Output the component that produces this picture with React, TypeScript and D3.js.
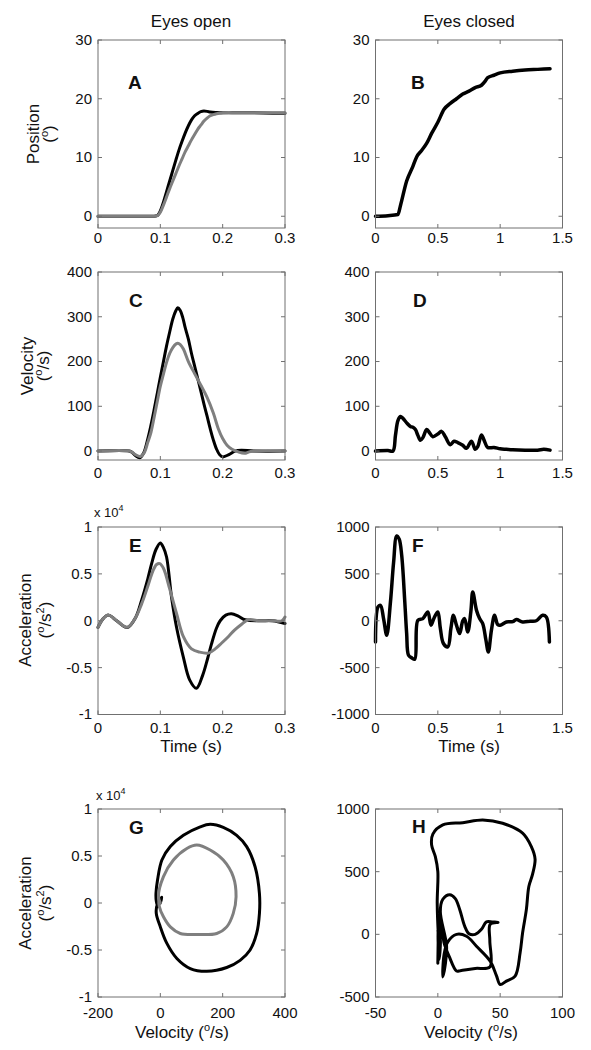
import React from "react";
import * as d3 from "d3";

const FONT = "'Liberation Sans', Arial, Helvetica, sans-serif";
const BLACK = "#000000";
const GRAY = "#7f7f7f";
const AXIS = "#707070";

// ---------- Panel A : position, eyes open ----------
const aBlackT = [0, 0.03, 0.06, 0.09, 0.095, 0.1, 0.105, 0.11, 0.115, 0.12, 0.125, 0.13, 0.135, 0.14, 0.145, 0.15, 0.155, 0.16, 0.165, 0.17, 0.175, 0.18, 0.19, 0.2, 0.22, 0.25, 0.28, 0.3];
const aBlackPos = [0, 0, 0, 0, 0.1, 0.9, 2.4, 4.2, 6.0, 7.8, 9.6, 11.3, 12.8, 14.2, 15.4, 16.4, 17.1, 17.5, 17.8, 17.9, 17.85, 17.75, 17.65, 17.6, 17.6, 17.6, 17.55, 17.55];
const aGrayT = [0, 0.03, 0.06, 0.09, 0.095, 0.1, 0.105, 0.11, 0.115, 0.12, 0.125, 0.13, 0.135, 0.14, 0.145, 0.15, 0.155, 0.16, 0.165, 0.17, 0.175, 0.18, 0.185, 0.19, 0.195, 0.2, 0.21, 0.22, 0.25, 0.28, 0.3];
const aGrayPos = [0, 0, 0, 0, 0.1, 0.7, 1.9, 3.3, 4.7, 6.0, 7.3, 8.6, 9.8, 11.0, 12.0, 13.0, 13.9, 14.8, 15.5, 16.2, 16.7, 17.1, 17.3, 17.45, 17.55, 17.6, 17.65, 17.6, 17.6, 17.6, 17.6];

// ---------- Panel B : position, eyes closed ----------
const bT = [0, 0.1, 0.18, 0.2, 0.25, 0.3, 0.33, 0.37, 0.41, 0.45, 0.5, 0.55, 0.6, 0.65, 0.7, 0.75, 0.8, 0.85, 0.88, 0.9, 0.95, 1.0, 1.1, 1.2, 1.3, 1.4];
const bPos = [0, 0.1, 0.3, 1.8, 6.0, 8.5, 10.1, 11.2, 12.4, 14.1, 16.0, 18.2, 19.2, 20.0, 20.8, 21.3, 21.9, 22.3, 23.0, 23.6, 24.0, 24.4, 24.7, 24.9, 25.0, 25.1];

// ---------- Panel C : velocity, eyes open ----------
const cBlackT = [0, 0.05, 0.055, 0.06, 0.067, 0.073, 0.08, 0.085, 0.09, 0.095, 0.1, 0.105, 0.11, 0.115, 0.12, 0.125, 0.128, 0.132, 0.136, 0.14, 0.145, 0.15, 0.155, 0.16, 0.165, 0.17, 0.175, 0.18, 0.185, 0.19, 0.195, 0.2, 0.21, 0.22, 0.23, 0.25, 0.3];
const cBlackVel = [0, 0, -3, -10, -15, -5, 28, 58, 92, 128, 165, 200, 235, 266, 295, 314, 320, 314, 298, 275, 250, 218, 190, 162, 134, 105, 78, 50, 25, 5, -8, -13, -8, 0, 2, 0, 0];
const cGrayT = [0, 0.05, 0.055, 0.06, 0.068, 0.074, 0.08, 0.085, 0.09, 0.095, 0.1, 0.105, 0.11, 0.115, 0.12, 0.125, 0.128, 0.132, 0.137, 0.145, 0.155, 0.165, 0.175, 0.185, 0.193, 0.2, 0.207, 0.215, 0.225, 0.235, 0.245, 0.3];
const cGrayVel = [0, 0, -3, -8, -12, -4, 20, 42, 75, 110, 145, 172, 198, 218, 231, 239, 241, 238, 228, 200, 173, 147, 120, 85, 50, 28, 13, 4, -2, -5, -1, 0];

// ---------- Panel D : velocity, eyes closed ----------
const dT = [0, 0.1, 0.14, 0.16, 0.18, 0.2, 0.22, 0.25, 0.28, 0.3, 0.32, 0.34, 0.36, 0.38, 0.41, 0.43, 0.46, 0.5, 0.53, 0.56, 0.6, 0.63, 0.66, 0.7, 0.73, 0.77, 0.8, 0.82, 0.85, 0.87, 0.9, 0.95, 1.0, 1.05, 1.1, 1.2, 1.3, 1.35, 1.4];
const dVel = [0, 1, 0, 35, 68, 77, 73, 63, 55, 53, 48, 35, 24, 30, 48, 42, 32, 38, 44, 32, 14, 22, 19, 13, 6, 22, 4, 10, 36, 25, 8, 8, 5, 4, 3, 2, 2, 4, 2];

// ---------- Panel E : acceleration (x10^4), eyes open ----------
const eBlackT = [0, 0.008, 0.017, 0.03, 0.047, 0.06, 0.07, 0.08, 0.086, 0.093, 0.1, 0.105, 0.11, 0.118, 0.126, 0.137, 0.147, 0.158, 0.168, 0.176, 0.182, 0.19, 0.196, 0.205, 0.214, 0.225, 0.236, 0.26, 0.28, 0.3];
const eBlackAcc = [-0.07, 0.02, 0.06, 0.0, -0.073, 0.03, 0.22, 0.45, 0.61, 0.76, 0.83, 0.78, 0.68, 0.25, -0.07, -0.39, -0.63, -0.72, -0.58, -0.4, -0.25, -0.08, 0.0, 0.06, 0.075, 0.05, 0.01, 0.0, 0.0, -0.03];
const eGrayT = [0, 0.008, 0.017, 0.03, 0.047, 0.06, 0.07, 0.08, 0.088, 0.094, 0.099, 0.105, 0.115, 0.126, 0.137, 0.15, 0.163, 0.177, 0.188, 0.198, 0.209, 0.219, 0.23, 0.241, 0.26, 0.28, 0.295, 0.3];
const eGrayAcc = [-0.07, 0.02, 0.06, 0.0, -0.07, 0.03, 0.18, 0.37, 0.53, 0.6, 0.61, 0.56, 0.34, 0.077, -0.17, -0.3, -0.335, -0.345, -0.3, -0.24, -0.17, -0.1, -0.04, 0.01, 0.0, 0.0, 0.0, 0.04];

// ---------- Panel F : acceleration, eyes closed ----------
const fT = [0, 0.02, 0.04, 0.065, 0.09, 0.12, 0.145, 0.17, 0.19, 0.21, 0.235, 0.25, 0.265, 0.29, 0.315, 0.34, 0.38, 0.42, 0.445, 0.47, 0.5, 0.52, 0.545, 0.58, 0.605, 0.625, 0.65, 0.675, 0.7, 0.715, 0.74, 0.765, 0.78, 0.81, 0.835, 0.86, 0.885, 0.905, 0.93, 0.955, 0.98, 1.0, 1.05, 1.1, 1.13, 1.18, 1.24, 1.29, 1.34, 1.37, 1.395];
const fAcc = [-226, 147, 165, 20, -155, 200, 620, 905, 870, 700, 200, -137, -368, -395, -410, 5, 23, 94, -48, 30, 94, -80, -243, -279, -80, 58, -50, -137, 0, 23, -119, 100, 307, 112, 23, -30, -200, -333, -100, 58, -40, -48, -13, -10, 13, -13, -5, 0, 58, 40, -226];

// ---------- Panel G : phase plane, eyes open ----------
const gBlackVel = [0, 5, -3, -8, -13, -14, -9, 5, 32, 74, 128, 160, 202, 245, 277, 304, 318, 318, 309, 288, 256, 213, 149, 96, 53, 21, 0, -13, -10, 0];
const gBlackAcc = [0, 0.06, 0.02, -0.04, 0.02, 0.1, 0.244, 0.457, 0.6, 0.72, 0.81, 0.837, 0.805, 0.72, 0.6, 0.386, 0.1, -0.11, -0.324, -0.5, -0.61, -0.686, -0.726, -0.697, -0.59, -0.43, -0.254, -0.11, -0.02, 0.02];
const gGrayVel = [0, -6, 10, 42, 85, 117, 160, 202, 234, 243, 234, 213, 181, 117, 64, 32, 10, -3, -4, 0];
const gGrayAcc = [0, 0.07, 0.28, 0.457, 0.58, 0.617, 0.564, 0.457, 0.28, 0.066, -0.11, -0.254, -0.324, -0.335, -0.324, -0.254, -0.147, -0.04, 0.03, 0];

// ---------- Panel H : phase plane, eyes closed ----------
const hVel = [0, 0.5, 1, 2, 1.5, 0.5, -0.5, 0, -2, -5, -4, 4, 20, 36, 52, 68, 75, 78, 76, 73, 71, 68, 66, 62, 55, 50, 47, 42, 31, 23, 15, 8, 5, 4, 6, 7, 2, 4, 9.6, 14, 17.6, 21.6, 25, 30, 35, 39, 44, 48.3, 42, 41.7, 41.7, 30, 18, 15, 9, 5, 3, 1, 0, 1, 2, 0.5, 1.5];
const hAcc = [-230, 40, 150, -60, -150, -20, 250, 500, 620, 714, 800, 873, 891, 912, 886, 807, 700, 600, 480, 382, 197, 12, -147, -333, -373, -400, -330, -214, -95, -15, 0, -60, -160, -340, -240, -90, 180, 280, 316, 285, 197, 64, 5, 0, 40, 100, 98, 96, 80, -50, -260, -272, -290, -293, -174, -68, 60, -60, 40, -200, -40, 20, -30];

// ---------- ticks ----------
const tOpenTicks = [0, 0.1, 0.2, 0.3];
const tClosedTicks = [0, 0.5, 1, 1.5];
const posTicks = [0, 10, 20, 30];
const velTicks = [0, 100, 200, 300, 400];
const accOpenTicks = [-1, -0.5, 0, 0.5, 1];
const accClosedTicks = [-1000, -500, 0, 500, 1000];
const accPhaseClosedTicks = [-500, 0, 500, 1000];
const velOpenTicks = [-200, 0, 200, 400];
const velClosedTicks = [-50, 0, 50, 100];

type Series = { xs: number[]; ys: number[]; color: string; width: number; curve: any };

type PanelProps = {
  x0: number; x1: number; y0: number; y1: number;
  xDomain: [number, number]; yDomain: [number, number];
  xTicks: number[]; yTicks: number[];
  series: Series[];
  letter: string; letterX: number; letterY: number;
  xTickBaseline: number;
};

function Panel(p: PanelProps) {
  const xs = d3.scaleLinear().domain(p.xDomain).range([p.x0, p.x1]);
  const ys = d3.scaleLinear().domain(p.yDomain).range([p.y1, p.y0]);
  const tl = 4;
  return (
    <g>
      {p.series.map((s, i) => {
        const line = d3
          .line<number>()
          .x((_, k) => xs(s.xs[k]))
          .y((_, k) => ys(s.ys[k]))
          .curve(s.curve);
        return (
          <path
            key={i}
            d={line(s.xs) || ""}
            fill="none"
            stroke={s.color}
            strokeWidth={s.width}
            strokeLinejoin="round"
            strokeLinecap="round"
          />
        );
      })}
      <rect x={p.x0} y={p.y0} width={p.x1 - p.x0} height={p.y1 - p.y0} fill="none" stroke={AXIS} strokeWidth={1} />
      {p.xTicks.map((t, i) => (
        <g key={"xt" + i}>
          <line x1={xs(t)} x2={xs(t)} y1={p.y1} y2={p.y1 - tl} stroke={AXIS} />
          <line x1={xs(t)} x2={xs(t)} y1={p.y0} y2={p.y0 + tl} stroke={AXIS} />
          <text x={xs(t)} y={p.xTickBaseline} textAnchor="middle" fontSize={15} fontFamily={FONT} fill="#111">
            {String(t)}
          </text>
        </g>
      ))}
      {p.yTicks.map((t, i) => (
        <g key={"yt" + i}>
          <line x1={p.x0} x2={p.x0 + tl} y1={ys(t)} y2={ys(t)} stroke={AXIS} />
          <line x1={p.x1} x2={p.x1 - tl} y1={ys(t)} y2={ys(t)} stroke={AXIS} />
          <text x={p.x0 - 6} y={ys(t)} dy="0.33em" textAnchor="end" fontSize={15} fontFamily={FONT} fill="#111">
            {String(t)}
          </text>
        </g>
      ))}
      <text x={p.letterX} y={p.letterY} fontSize={19} fontWeight="bold" fontFamily={FONT} fill="#111">
        {p.letter}
      </text>
    </g>
  );
}

function YLabel({ x1, x2, cy, first, second }: { x1: number; x2: number; cy: number; first: string; second: React.ReactNode }) {
  return (
    <g fontFamily={FONT} fontSize={17} fill="#111">
      <text transform={`translate(${x1},${cy}) rotate(-90)`} textAnchor="middle">{first}</text>
      <text transform={`translate(${x2},${cy}) rotate(-90)`} textAnchor="middle">{second}</text>
    </g>
  );
}

const supDeg = (
  <tspan fontSize={11} dy={-7}>o</tspan>
);

function Times10({ x, y }: { x: number; y: number }) {
  return (
    <text x={x} y={y} fontFamily={FONT} fontSize={13} fill="#111">
      x 10<tspan fontSize={9} dy={-6}>4</tspan>
    </text>
  );
}

export default function App() {
  const L = { x0: 98, x1: 285 };
  const R = { x0: 375.5, x1: 562.5 };
  const rowA = { y0: 40, y1: 228 };
  const rowC = { y0: 272, y1: 460 };
  const rowE = { y0: 527, y1: 714.5 };
  const rowG = { y0: 809, y1: 997 };
  const smooth = d3.curveMonotoneX;
  const cat = d3.curveCatmullRom.alpha(0.5);

  return (
    <svg width={591} height={1050} style={{ position: "absolute", left: 0, top: 0, background: "#fff" }}>
      <rect x={0} y={0} width={591} height={1050} fill="#fff" />
      {/* column titles */}
      <text x={191} y={26.5} textAnchor="middle" fontFamily={FONT} fontSize={17} fill="#111">Eyes open</text>
      <text x={469} y={26.5} textAnchor="middle" fontFamily={FONT} fontSize={17} fill="#111">Eyes closed</text>

      {/* Row 1 */}
      <Panel {...L} {...rowA} xDomain={[0, 0.3]} yDomain={[-2, 30]} xTicks={tOpenTicks} yTicks={posTicks}
        series={[
          { xs: aBlackT, ys: aBlackPos, color: BLACK, width: 3, curve: smooth },
          { xs: aGrayT, ys: aGrayPos, color: GRAY, width: 3, curve: smooth },
        ]}
        letter="A" letterX={128} letterY={89} xTickBaseline={243} />
      <Panel {...R} {...rowA} xDomain={[0, 1.5]} yDomain={[-2, 30]} xTicks={tClosedTicks} yTicks={posTicks}
        series={[{ xs: bT, ys: bPos, color: BLACK, width: 3.5, curve: smooth }]}
        letter="B" letterX={411} letterY={89} xTickBaseline={243} />
      <YLabel x1={39} x2={55} cy={134} first="Position" second={<>({supDeg}<tspan dy={7}>)</tspan></>} />

      {/* Row 2 */}
      <Panel {...L} {...rowC} xDomain={[0, 0.3]} yDomain={[-20, 400]} xTicks={tOpenTicks} yTicks={velTicks}
        series={[
          { xs: cBlackT, ys: cBlackVel, color: BLACK, width: 3, curve: cat },
          { xs: cGrayT, ys: cGrayVel, color: GRAY, width: 3, curve: cat },
        ]}
        letter="C" letterX={129} letterY={306.5} xTickBaseline={478} />
      <Panel {...R} {...rowC} xDomain={[0, 1.5]} yDomain={[-20, 400]} xTicks={tClosedTicks} yTicks={velTicks}
        series={[{ xs: dT, ys: dVel, color: BLACK, width: 3.5, curve: cat }]}
        letter="D" letterX={413} letterY={306.5} xTickBaseline={478} />
      <YLabel x1={33} x2={49} cy={366} first="Velocity" second={<>({supDeg}<tspan dy={7}>/s)</tspan></>} />

      {/* Row 3 */}
      <Times10 x={94} y={517} />
      <Panel {...L} {...rowE} xDomain={[0, 0.3]} yDomain={[-1, 1]} xTicks={tOpenTicks} yTicks={accOpenTicks}
        series={[
          { xs: eBlackT, ys: eBlackAcc, color: BLACK, width: 3, curve: cat },
          { xs: eGrayT, ys: eGrayAcc, color: GRAY, width: 3, curve: cat },
        ]}
        letter="E" letterX={129} letterY={551.5} xTickBaseline={733} />
      <Panel {...R} {...rowE} xDomain={[0, 1.5]} yDomain={[-1000, 1000]} xTicks={tClosedTicks} yTicks={accClosedTicks}
        series={[{ xs: fT, ys: fAcc, color: BLACK, width: 3.5, curve: cat }]}
        letter="F" letterX={412} letterY={551.5} xTickBaseline={733} />
      <YLabel x1={31} x2={51} cy={620} first="Acceleration"
        second={<>({supDeg}<tspan dy={7}>/s</tspan><tspan fontSize={11} dy={-7}>2</tspan><tspan dy={7}>)</tspan></>} />
      <text x={191} y={752} textAnchor="middle" fontFamily={FONT} fontSize={17} fill="#111">Time (s)</text>
      <text x={469} y={752} textAnchor="middle" fontFamily={FONT} fontSize={17} fill="#111">Time (s)</text>

      {/* Row 4 */}
      <Times10 x={96} y={800} />
      <Panel {...L} {...rowG} xDomain={[-200, 400]} yDomain={[-1, 1]} xTicks={velOpenTicks} yTicks={accOpenTicks}
        series={[
          { xs: gBlackVel, ys: gBlackAcc, color: BLACK, width: 3, curve: cat },
          { xs: gGrayVel, ys: gGrayAcc, color: GRAY, width: 3, curve: cat },
        ]}
        letter="G" letterX={129} letterY={834} xTickBaseline={1018} />
      <Panel {...R} {...rowG} xDomain={[-50, 100]} yDomain={[-500, 1000]} xTicks={velClosedTicks} yTicks={accPhaseClosedTicks}
        series={[{ xs: hVel, ys: hAcc, color: BLACK, width: 3, curve: cat }]}
        letter="H" letterX={412} letterY={833} xTickBaseline={1018} />
      <YLabel x1={31} x2={51} cy={903} first="Acceleration"
        second={<>({supDeg}<tspan dy={7}>/s</tspan><tspan fontSize={11} dy={-7}>2</tspan><tspan dy={7}>)</tspan></>} />
      <text x={182} y={1038} textAnchor="middle" fontFamily={FONT} fontSize={17} fill="#111">
        Velocity ({supDeg}<tspan dy={7}>/s)</tspan>
      </text>
      <text x={471} y={1038} textAnchor="middle" fontFamily={FONT} fontSize={17} fill="#111">
        Velocity ({supDeg}<tspan dy={7}>/s)</tspan>
      </text>
    </svg>
  );
}
